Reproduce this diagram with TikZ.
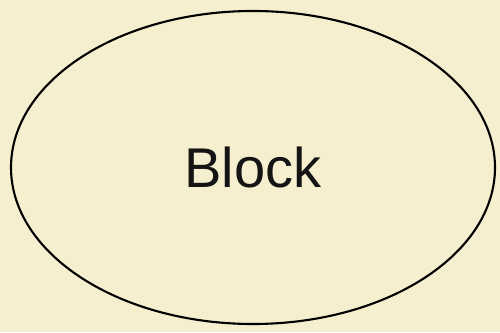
\documentclass[tikz,border=0pt]{standalone}
\usepackage{fontspec}
\usetikzlibrary{shapes.geometric}
\setmainfont{Liberation Sans}
\definecolor{bgcol}{RGB}{246,239,207}
\begin{document}
\begin{tikzpicture}[x=1pt,y=1pt,
  blockshape/.style={draw=black,line width=2.1pt,ellipse,minimum width=484pt,minimum height=313pt,inner sep=0pt,
    font=\fontsize{56}{60}\selectfont,text=black!92}]
\fill[bgcol] (0,0) rectangle (500,332);
\useasboundingbox (0,0) rectangle (500,332);
\node[blockshape] (blk) at (253,164.5) {Block};
\end{tikzpicture}
\end{document}
